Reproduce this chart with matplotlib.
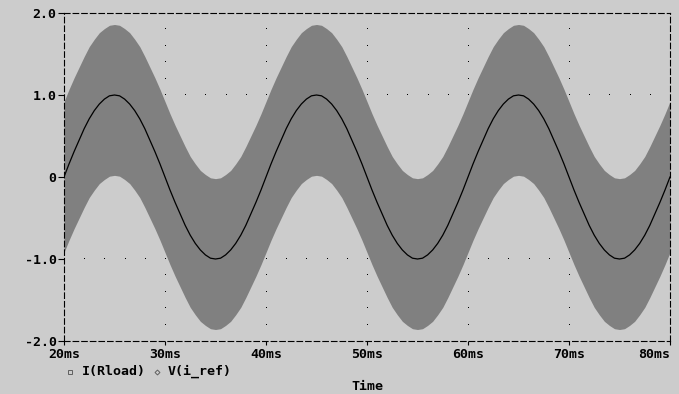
import matplotlib
matplotlib.use("Agg")
import matplotlib.pyplot as plt
from matplotlib.lines import Line2D

# time axis in ms, sampled every 0.5 ms
t_ms = [20 + 0.5 * k for k in range(121)]

# V(i_ref): reference sine
v_iref = [
    0.00, 0.16, 0.31, 0.45, 0.59, 0.71, 0.81, 0.89, 0.95, 0.99,
    1.00, 0.99, 0.95, 0.89, 0.81, 0.71, 0.59, 0.45, 0.31, 0.16,
    0.00, -0.16, -0.31, -0.45, -0.59, -0.71, -0.81, -0.89, -0.95, -0.99,
    -1.00, -0.99, -0.95, -0.89, -0.81, -0.71, -0.59, -0.45, -0.31, -0.16,
    0.00, 0.16, 0.31, 0.45, 0.59, 0.71, 0.81, 0.89, 0.95, 0.99,
    1.00, 0.99, 0.95, 0.89, 0.81, 0.71, 0.59, 0.45, 0.31, 0.16,
    0.00, -0.16, -0.31, -0.45, -0.59, -0.71, -0.81, -0.89, -0.95, -0.99,
    -1.00, -0.99, -0.95, -0.89, -0.81, -0.71, -0.59, -0.45, -0.31, -0.16,
    0.00, 0.16, 0.31, 0.45, 0.59, 0.71, 0.81, 0.89, 0.95, 0.99,
    1.00, 0.99, 0.95, 0.89, 0.81, 0.71, 0.59, 0.45, 0.31, 0.16,
    0.00, -0.16, -0.31, -0.45, -0.59, -0.71, -0.81, -0.89, -0.95, -0.99,
    -1.00, -0.99, -0.95, -0.89, -0.81, -0.71, -0.59, -0.45, -0.31, -0.16,
    0.00,
]

# I(Rload): mean of the switching current, plus ripple half-width
i_load_mid = [
    0.00, 0.15, 0.29, 0.42, 0.55, 0.67, 0.76, 0.84, 0.89, 0.93,
    0.94, 0.93, 0.89, 0.84, 0.76, 0.67, 0.55, 0.42, 0.29, 0.15,
    0.00, -0.15, -0.29, -0.42, -0.55, -0.67, -0.76, -0.84, -0.89, -0.93,
    -0.94, -0.93, -0.89, -0.84, -0.76, -0.67, -0.55, -0.42, -0.29, -0.15,
    0.00, 0.15, 0.29, 0.42, 0.55, 0.67, 0.76, 0.84, 0.89, 0.93,
    0.94, 0.93, 0.89, 0.84, 0.76, 0.67, 0.55, 0.42, 0.29, 0.15,
    0.00, -0.15, -0.29, -0.42, -0.55, -0.67, -0.76, -0.84, -0.89, -0.93,
    -0.94, -0.93, -0.89, -0.84, -0.76, -0.67, -0.55, -0.42, -0.29, -0.15,
    0.00, 0.15, 0.29, 0.42, 0.55, 0.67, 0.76, 0.84, 0.89, 0.93,
    0.94, 0.93, 0.89, 0.84, 0.76, 0.67, 0.55, 0.42, 0.29, 0.15,
    0.00, -0.15, -0.29, -0.42, -0.55, -0.67, -0.76, -0.84, -0.89, -0.93,
    -0.94, -0.93, -0.89, -0.84, -0.76, -0.67, -0.55, -0.42, -0.29, -0.15,
    0.00,
]
ripple = 0.92

x_ticks = [20, 30, 40, 50, 60, 70, 80]
x_labels = ["20ms", "30ms", "40ms", "50ms", "60ms", "70ms", "80ms"]
y_ticks = [-2.0, -1.0, 0.0, 1.0, 2.0]
y_labels = ["-2.0", "-1.0", "0", "1.0", "2.0"]

bg = "#cccccc"
band = "#808080"
font = dict(family="DejaVu Sans Mono", fontweight="bold", fontsize=9.5)

plt.rcParams["lines.scale_dashes"] = False
fig = plt.figure(figsize=(6.79, 3.94), dpi=100, facecolor=bg)
ax = fig.add_axes([64 / 679, 53 / 394, 606 / 679, 328 / 394])
ax.set_facecolor(bg)

# dotted grid: dots along major lines
for xt in x_ticks[1:-1]:
    ys = [-2.0 + 0.2 * k for k in range(1, 20)]
    ax.plot([xt] * len(ys), ys, ",", color="k", zorder=1)
for yt in [-1.0, 0.0, 1.0]:
    xs = [20 + 2 * k for k in range(1, 30)]
    ax.plot(xs, [yt] * len(xs), ",", color="k", zorder=1)

lower = [m - ripple for m in i_load_mid]
upper = [m + ripple for m in i_load_mid]
ax.fill_between(t_ms, lower, upper, color=band, lw=0, zorder=2)
ax.plot(t_ms, v_iref, color="k", lw=0.9, zorder=3)

ax.set_xlim(20, 80)
ax.set_ylim(-2.0, 2.0)
ax.set_xticks(x_ticks)
ax.set_xticklabels(x_labels, **font)
ax.get_xticklabels()[-1].set_horizontalalignment("right")
ax.get_xticklabels()[-1].set_x(80)
ax.set_yticks(y_ticks)
ax.set_yticklabels(y_labels, **font)
ax.tick_params(axis="y", direction="out", length=4.3, width=0.8, pad=1)
ax.tick_params(axis="x", direction="out", length=3, width=0.8, pad=2)

for s in ax.spines.values():
    s.set_linestyle((0, (4.0, 2.2)))
    s.set_linewidth(0.8)
    s.set_color("k")

# legend below the axis
fig.add_artist(Line2D([69.5 / 679], [1 - 371.5 / 394], marker="s", ms=3,
                      mfc="none", mec="#606060", mew=0.7, ls="none"))
fig.text(82 / 679, 1 - 371.5 / 394, "I(Rload)", va="center", ha="left", **font)
fig.add_artist(Line2D([157 / 679], [1 - 372 / 394], marker="D", ms=2.5,
                      mfc="none", mec="#606060", mew=0.7, ls="none"))
fig.text(168 / 679, 1 - 371.5 / 394, "V(i_ref)", va="center", ha="left", **font)
fig.text(367 / 679, 1 - 386 / 394, "Time", va="center", ha="center", **font)

fig.savefig("out.png", dpi=100, facecolor=bg)
